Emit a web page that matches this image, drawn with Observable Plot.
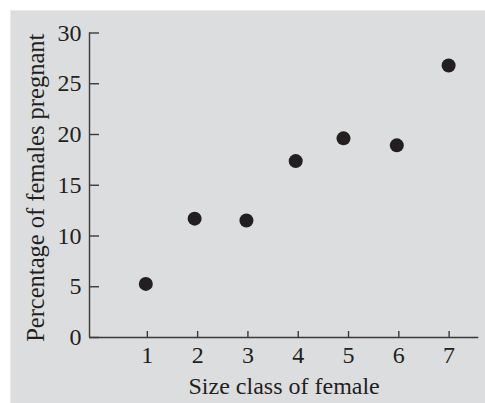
<!DOCTYPE html>
<html>
<head>
<meta charset="utf-8">
<script src="https://cdn.jsdelivr.net/npm/d3@7"></script>
<script src="https://cdn.jsdelivr.net/npm/@observablehq/plot@0.6"></script>
<style>
  html, body { margin: 0; padding: 0; background: #ffffff; }
  #wrap { position: relative; width: 485px; height: 403px; overflow: hidden; }
  #panel { position: absolute; left: 10px; top: 10px; right: 0; bottom: 0;
           background: #dcdddf; border-left: 1px solid #eaeaea; border-top: 1px solid #eaeaea; }
  #chart { position: absolute; left: 0; top: 0; }
  #chart svg g[aria-label="y-axis tick label"] text,
  #chart svg g[aria-label="x-axis tick label"] text { font-size: 24px; }
</style>
</head>
<body>
<div id="wrap"><div id="panel"></div><div id="chart"></div></div>
<script>
// Data
const sizeClass = [0.97, 1.94, 2.97, 3.95, 4.9, 5.96, 6.99];
const pctPregnant = [5.28, 11.71, 11.52, 17.38, 19.62, 18.93, 26.8];
const xTicks = [1, 2, 3, 4, 5, 6, 7];
const yTicks = [0, 5, 10, 15, 20, 25, 30];
const xDomain = [-0.15, 7.59];
const yDomain = [0, 30];
const xLabel = "Size class of female";
const yLabel = "Percentage of females pregnant";

const data = sizeClass.map((x, i) => ({x, y: pctPregnant[i]}));
const ink = "#231f20";
const axisInk = "#3a3a3a";

const chart = Plot.plot({
  width: 485,
  height: 403,
  marginLeft: 89,
  marginRight: 6.7,
  marginTop: 32.5,
  marginBottom: 66,
  style: {background: "transparent", fontFamily: "'Liberation Serif', serif", fontSize: "24px", color: ink},
  x: {domain: xDomain},
  y: {domain: yDomain},
  marks: [
    Plot.ruleY([yDomain[0]], {stroke: axisInk, strokeWidth: 1.4}),
    Plot.ruleX([xDomain[0]], {y1: yDomain[0], y2: yDomain[1], stroke: axisInk, strokeWidth: 1.4}),
    Plot.axisY(yTicks, {anchor: "left", tickSize: -10, tickPadding: 18, stroke: axisInk, strokeWidth: 1.4, label: null, fill: ink, fontSize: 24}),
    Plot.axisX(xTicks, {anchor: "bottom", tickSize: -6, tickPadding: 14, stroke: axisInk, strokeWidth: 1.4, label: null, fill: ink, fontSize: 24}),
    Plot.text([xLabel], {frameAnchor: "bottom", lineAnchor: "bottom", textAnchor: "middle", dy: 56, fontSize: 24, fill: ink}),
    Plot.text([yLabel], {frameAnchor: "left", lineAnchor: "bottom", textAnchor: "middle", rotate: -90, dx: -46, dy: 2.5, fontSize: 24.5, fill: ink}),
    Plot.dot(data, {x: "x", y: "y", r: 7, fill: ink, stroke: "none"})
  ]
});
document.getElementById("chart").appendChild(chart);
</script>
</body>
</html>
